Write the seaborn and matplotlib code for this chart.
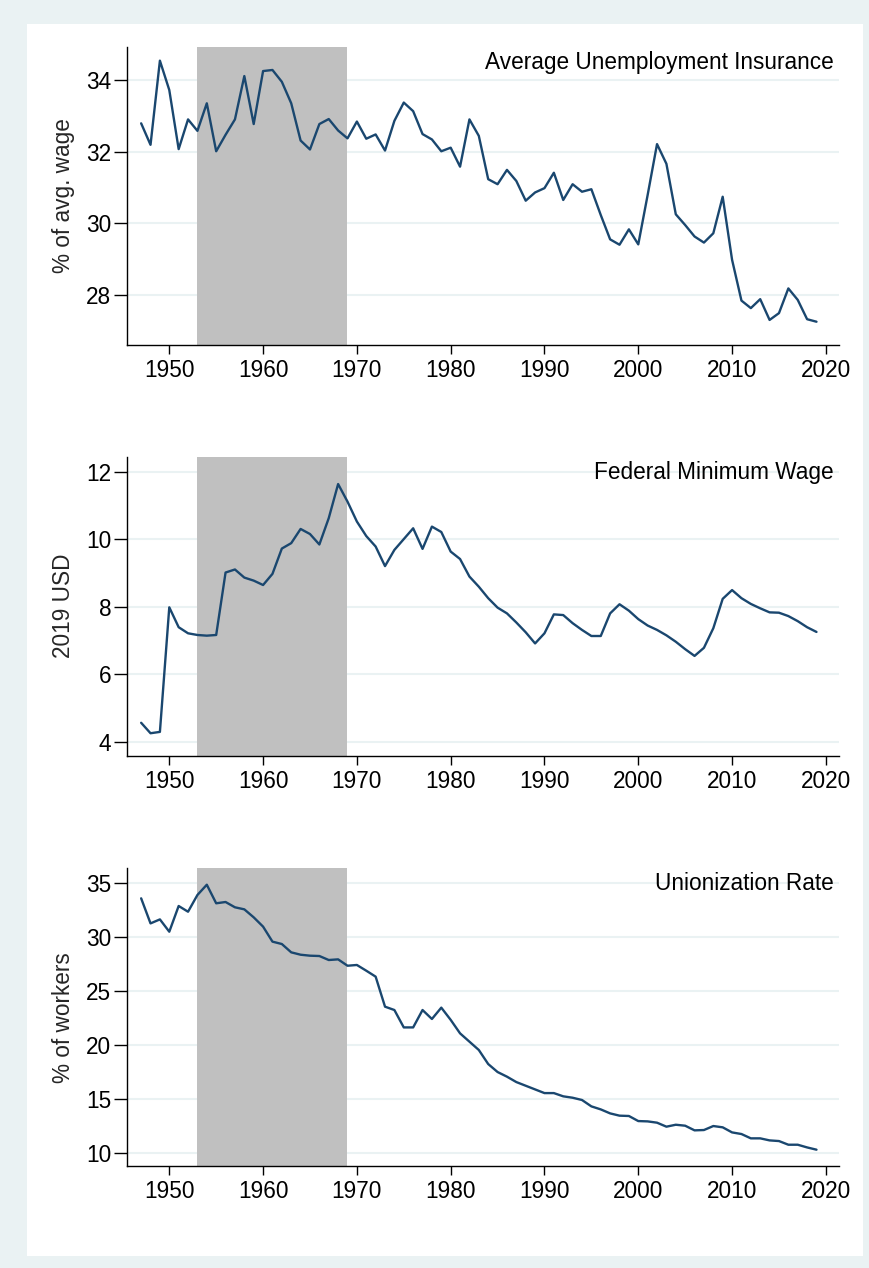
import numpy as np
import pandas as pd
import seaborn as sns
import matplotlib.pyplot as plt
from matplotlib.patches import Rectangle

# yearly series 1947-2019
years = np.arange(1947, 2020)

ui_replacement = [32.79, 32.19, 34.54, 33.72, 32.07, 32.90, 32.58, 33.35, 32.01, 32.47,
                  32.90, 34.11, 32.77, 34.25, 34.28, 33.95, 33.35, 32.31, 32.06, 32.77,
                  32.91, 32.59, 32.37, 32.84, 32.36, 32.48, 32.03, 32.86, 33.37, 33.13,
                  32.49, 32.34, 32.01, 32.11, 31.58, 32.90, 32.44, 31.23, 31.09, 31.49,
                  31.18, 30.63, 30.86, 30.98, 31.41, 30.65, 31.09, 30.88, 30.95, 30.23,
                  29.55, 29.40, 29.83, 29.41, 30.79, 32.21, 31.66, 30.25, 29.95, 29.63,
                  29.46, 29.72, 30.74, 28.98, 27.84, 27.63, 27.88, 27.30, 27.49, 28.18,
                  27.86, 27.32, 27.25]

min_wage = [4.56, 4.25, 4.29, 7.98, 7.39, 7.21, 7.16, 7.14, 7.16, 9.01,
            9.10, 8.86, 8.77, 8.64, 8.97, 9.72, 9.88, 10.30, 10.15, 9.84,
            10.62, 11.63, 11.11, 10.52, 10.09, 9.78, 9.20, 9.68, 10.00, 10.32,
            9.71, 10.37, 10.21, 9.63, 9.41, 8.89, 8.59, 8.25, 7.97, 7.80,
            7.53, 7.24, 6.91, 7.21, 7.77, 7.75, 7.51, 7.31, 7.13, 7.13,
            7.80, 8.07, 7.88, 7.63, 7.44, 7.31, 7.15, 6.96, 6.74, 6.54,
            6.78, 7.36, 8.23, 8.49, 8.25, 8.08, 7.95, 7.83, 7.82, 7.72,
            7.57, 7.39, 7.25]

union_rate = [33.55, 31.23, 31.60, 30.46, 32.84, 32.31, 33.86, 34.81, 33.09, 33.21,
              32.72, 32.53, 31.79, 30.93, 29.54, 29.32, 28.55, 28.33, 28.24, 28.21,
              27.84, 27.90, 27.31, 27.38, 26.85, 26.30, 23.52, 23.21, 21.60, 21.60,
              23.21, 22.38, 23.43, 22.30, 21.05, 20.28, 19.51, 18.21, 17.47, 17.04,
              16.54, 16.20, 15.86, 15.52, 15.52, 15.22, 15.09, 14.88, 14.29, 14.01,
              13.64, 13.43, 13.40, 12.93, 12.90, 12.78, 12.41, 12.59, 12.50, 12.07,
              12.10, 12.47, 12.35, 11.88, 11.73, 11.33, 11.33, 11.14, 11.08, 10.74,
              10.74, 10.49, 10.28]

titles = ['Average Unemployment Insurance', 'Federal Minimum Wage', 'Unionization Rate']
ylabels = ['% of avg. wage', '2019 USD', '% of workers']
yticks = [[28, 30, 32, 34], [4, 6, 8, 10, 12], [10, 15, 20, 25, 30, 35]]
ylims = [(26.6, 34.93), (3.585, 12.44), (8.77, 36.33)]
xticks = [1950, 1960, 1970, 1980, 1990, 2000, 2010, 2020]
shade = (1953, 1969)

df = pd.DataFrame({'year': years, 'ui': ui_replacement, 'mw': min_wage, 'union': union_rate})
cols = ['ui', 'mw', 'union']

sns.set_style('ticks')
plt.rcParams['font.family'] = ['Liberation Sans', 'DejaVu Sans']

W, H = 870, 1268
fig = plt.figure(figsize=(W / 100, H / 100), dpi=100, facecolor='#eaf2f3')
# white inner region like the stata graph region
fig.patches.append(Rectangle((27 / W, 1 - 1256 / H), (863 - 27) / W, (1256 - 24) / H,
                             transform=fig.transFigure, facecolor='white',
                             edgecolor='none', zorder=-10))

# axes boxes in pixels: (top, bottom)
boxes = [(46.7, 345), (456.7, 755.7), (868.3, 1166)]
left, right = 126.7, 839

navy = '#1a476f'
fs = 16.3

for i, (top, bot) in enumerate(boxes):
    ax = fig.add_axes([left / W, 1 - bot / H, (right - left) / W, (bot - top) / H])
    ax.set_axisbelow(True)
    ax.yaxis.grid(True, color='#eaf2f3', lw=1.5)
    ax.axvspan(*shade, color='#c0c0c0', lw=0, zorder=1)
    sns.lineplot(data=df, x='year', y=cols[i], ax=ax, color=navy, lw=1.7, zorder=2)

    ax.set_xlim(1945.46, 2021.4)
    ax.set_ylim(*ylims[i])
    ax.set_xticks(xticks)
    ax.set_yticks(yticks[i])
    ax.set_xlabel('')
    ax.set_ylabel(ylabels[i], fontsize=fs)
    ax.yaxis.set_label_coords(-0.072, 0.5)

    sns.despine(ax=ax)
    for s in ['left', 'bottom']:
        ax.spines[s].set_linewidth(1.0)
        ax.spines[s].set_color('black')
    ax.tick_params(axis='y', length=9.6, width=1, pad=1.5, labelsize=fs, colors='black')
    ax.tick_params(axis='x', length=6.5, width=1, pad=3.5, labelsize=fs, colors='black')

    ax.text(0.993, 0.987, titles[i], transform=ax.transAxes, ha='right', va='top',
            fontsize=fs, color='black')

fig.savefig('out.png', dpi=100, facecolor=fig.get_facecolor())
